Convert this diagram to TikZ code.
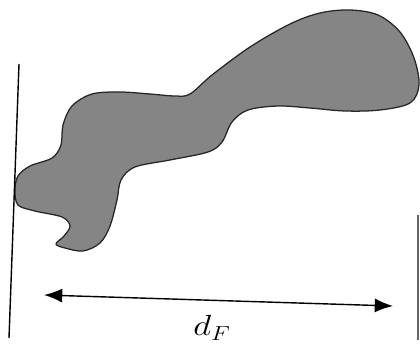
\documentclass[tikz,border=0pt]{standalone}
\usepackage{xcolor}
\usepackage{tikz}
\usetikzlibrary{arrows.meta}

\begin{document}
\begin{tikzpicture}[x=0.025cm, y=-0.025cm,
    wall/.style={line width=1pt},
    body/.style={fill=black!48, draw=black!85, line width=0.9pt}]
    \useasboundingbox (0,0) rectangle (420,347);
    % gray body, leaning on the left wall
    \draw[body] plot[smooth cycle, tension=0.55] coordinates {
      (15,190) (18,176) (30,166) (52,158) (61,145) (63,125) (72,106) (92,94)
      (120,92) (150,94) (175,96) (190,94) (212,75) (250,47) (290,24) (320,13)
      (350,10) (378,15) (400,32) (414,58) (419,85) (410,103) (380,110) (345,111)
      (310,108) (278,106) (248,110) (232,122) (222,142) (208,152) (170,160) (135,167)
      (121,180) (117,200) (110,226) (100,243) (83,251) (65,248) (56,244) (64,236)
      (70,226) (62,217) (35,211) (18,205)};
    % walls
    \coordinate (lt) at (19,64);
    \coordinate (lb) at (9,338);
    \draw[wall] (lt) -- (lb);
    \coordinate (rt) at (418,215);
    \coordinate (rb) at (418,340);
    \draw[wall, black!60] (rt) -- (rb);
    % distance between the walls
    \coordinate (la) at (44,295);
    \coordinate (ra) at (393,306);
    \draw[line width=1pt, {Latex[length=13pt,width=10pt]}-{Latex[length=13pt,width=10pt]}] (la) -- (ra);
    \node[font=\huge, xscale=1.2, transform shape] (dF) at (212,328) {$d_F$};
  \end{tikzpicture}
\end{document}
